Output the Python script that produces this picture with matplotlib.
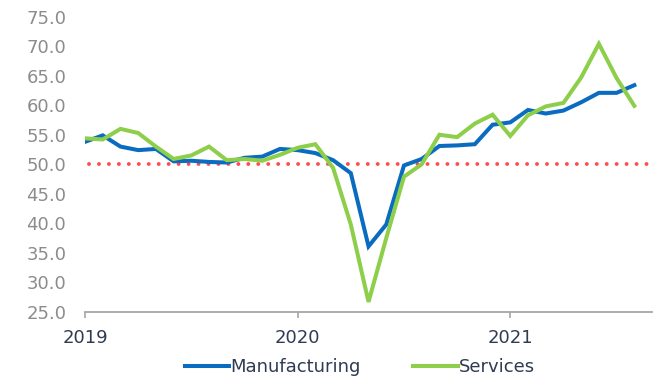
import matplotlib
matplotlib.use("Agg")
import matplotlib.pyplot as plt

# Monthly PMI readings, Dec 2018 - Jul 2021
manufacturing = [53.8, 54.9, 53.0, 52.4, 52.6, 50.5, 50.6, 50.4, 50.3, 51.1, 51.3, 52.6,
                 52.4, 51.9, 50.7, 48.5, 36.1, 39.8, 49.8, 50.9, 53.1, 53.2, 53.4, 56.7,
                 57.1, 59.2, 58.6, 59.1, 60.5, 62.1, 62.1, 63.4]
services = [54.4, 54.2, 56.0, 55.3, 53.0, 50.9, 51.5, 53.0, 50.7, 50.9, 50.6, 51.6,
            52.8, 53.4, 49.4, 39.8, 26.7, 37.5, 47.9, 50.0, 55.0, 54.6, 56.9, 58.4,
            54.8, 58.3, 59.8, 60.4, 64.7, 70.4, 64.6, 59.9]
year_ticks = [0, 12, 24]
year_labels = ["2019", "2020", "2021"]
y_ticks = [25, 30, 35, 40, 45, 50, 55, 60, 65, 70, 75]
threshold = 50

plt.rcParams["font.family"] = ["DejaVu Sans"]

fig = plt.figure(figsize=(6.54, 3.79), dpi=100)
ax = fig.add_axes([0.130, 0.177, 0.867, 0.779])

months = list(range(len(manufacturing)))
ax.plot([0.2, 32], [threshold, threshold], color="#FF4B4B", lw=2.8,
        linestyle=(0, (0.01, 2.55)), dash_capstyle="round", zorder=1)
ax.plot(months, manufacturing, color="#0A6CC0", lw=2.9, label="Manufacturing",
        solid_joinstyle="miter", zorder=2)
ax.plot(months, services, color="#8DCF4A", lw=2.9, label="Services",
        solid_joinstyle="miter", zorder=3)

ax.set_xlim(0, 32)
ax.set_ylim(25, 75)
ax.set_yticks(y_ticks)
ax.set_yticklabels([f"{v:.1f}" for v in y_ticks])
ax.set_xticks(year_ticks)
ax.set_xticklabels(year_labels)

for side in ("top", "right", "left"):
    ax.spines[side].set_visible(False)
ax.spines["bottom"].set_color("#A6A6A6")
ax.spines["bottom"].set_linewidth(1.3)

ax.tick_params(axis="y", length=0, pad=13.5, labelsize=13, labelcolor="#8C8C8C")
ax.tick_params(axis="x", length=4, width=1.2, color="#A6A6A6", pad=8,
               labelsize=13, labelcolor="#2F3B52")

fig.legend(loc="center", bbox_to_anchor=(360 / 654, 1 - 367 / 379), ncol=2,
           frameon=False, fontsize=13, handlelength=2.45, handletextpad=0.1,
           columnspacing=2.9, labelcolor="#2F3B52", borderaxespad=0, borderpad=0)

fig.savefig("out.png", dpi=100, facecolor="white")
